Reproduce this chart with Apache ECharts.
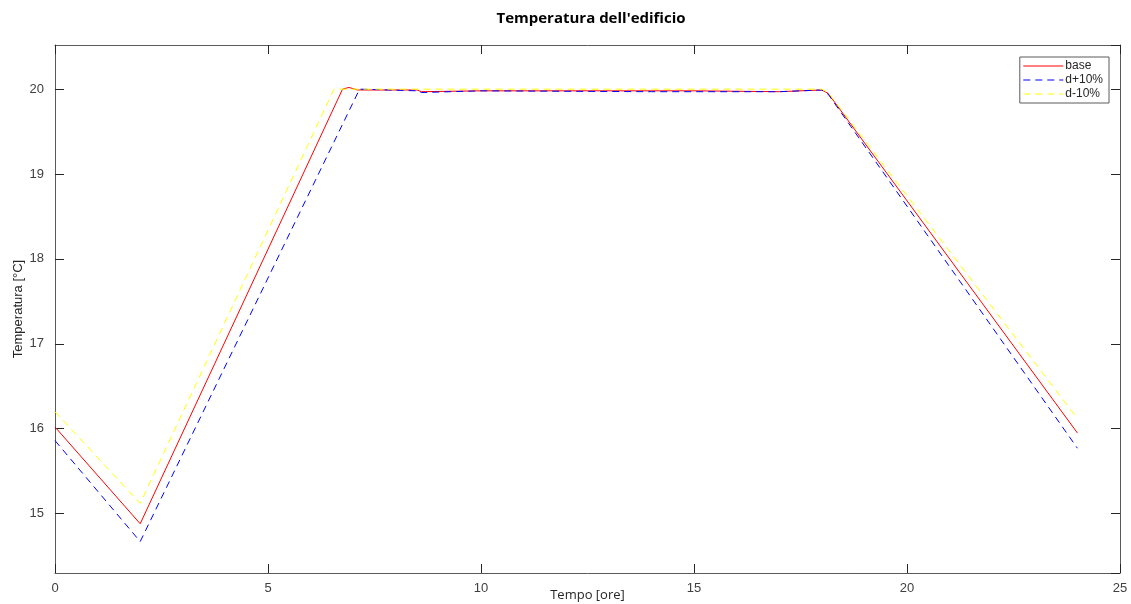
<!DOCTYPE html>
<html>
<head>
<meta charset="utf-8">
<script src="https://cdn.jsdelivr.net/npm/echarts@6/dist/echarts.min.js"></script>
<style>html,body{margin:0;padding:0;background:#fff}#c{width:1131px;height:604px}</style>
</head>
<body>
<div id="c"></div>
<script>
// Data: [time (h), temperature (°C)]
const seriesNames = ['base', 'd+10%', 'd-10%'];
const baseData = [[0,16.02],[2,14.88],[6.75,20.0],[6.9,20.02],[7.1,19.99],[8.5,19.99],[8.6,19.97],[10,19.98],[13,19.98],[15,19.98],[17,19.97],[18,19.99],[18.15,19.95],[24,15.95]];
const plusData = [[0,15.86],[2,14.67],[7.15,20.0],[8.5,19.98],[8.6,19.96],[10,19.98],[14,19.97],[17,19.97],[18,19.99],[18.15,19.94],[24,15.77]];
const minusData = [[0,16.2],[2,15.12],[6.55,20.0],[10,20.0],[15,20.0],[18,20.0],[18.15,19.96],[24,16.12]];
const xTicks = [0, 5, 10, 15, 20, 25];
const yTicks = [15, 16, 17, 18, 19, 20];

const axisColor = '#5a5a5a';
const labelColor = '#404040';
const font = 'Liberation Sans, Arial, sans-serif';

const chart = echarts.init(document.getElementById('c'), null, {renderer: 'canvas'});
const xAxisCommon = {
  type: 'value', min: xTicks[0], max: xTicks[xTicks.length-1], interval: 5,
  axisLine: {show: true, onZero: false, lineStyle: {color: axisColor, width: 1}},
  axisTick: {show: true, inside: true, length: 9, lineStyle: {color: '#262626'}},
  splitLine: {show: false}
};
const yAxisCommon = {
  type: 'value', min: 14.3, max: 20.52,
  axisLine: {show: true, onZero: false, lineStyle: {color: axisColor, width: 1}},
  axisTick: {show: true, inside: true, length: 9, lineStyle: {color: '#262626'}},
  splitLine: {show: false}
};
chart.setOption({
  backgroundColor: '#fff',
  animation: false,
  title: {
    text: "Temperatura dell'edificio", left: 586, top: 6, textAlign: 'center',
    textStyle: {fontFamily: 'Open Sans, sans-serif', fontWeight: 'bold', fontSize: 15, color: '#000'}
  },
  grid: {left: 55, right: 11, top: 45, bottom: 31, containLabel: false, outerBoundsMode: 'none'},
  legend: {
    orient: 'vertical', right: 22, top: 57,
    itemWidth: 40, itemHeight: 14, itemGap: 2,
    padding: [3, 6, 3, 3],
    borderColor: '#5a5a5a', borderWidth: 1, backgroundColor: '#fff',
    itemStyle: {opacity: 0},
    lineStyle: {width: 1},
    textStyle: {fontFamily: font, fontSize: 12, color: '#262626', padding: [0,0,0,-3]},
    data: seriesNames
  },
  xAxis: [
    Object.assign({}, xAxisCommon, {
      position: 'bottom',
      name: 'Tempo [ore]', nameLocation: 'middle', nameGap: 16, nameMoveOverlap: false,
      nameTextStyle: {fontFamily: 'Open Sans, sans-serif', fontSize: 13, color: '#262626'},
      axisLabel: {show: true, color: labelColor, fontFamily: font, fontSize: 13, margin: 9}
    }),
    Object.assign({}, xAxisCommon, {position: 'top', axisLabel: {show: false}})
  ],
  yAxis: [
    Object.assign({}, yAxisCommon, {
      position: 'left',
      name: 'Temperatura [°C]', nameLocation: 'middle', nameGap: 30, nameMoveOverlap: false,
      nameTextStyle: {fontFamily: font, fontSize: 13, color: '#262626'},
      axisLabel: {show: true, color: labelColor, fontFamily: font, fontSize: 13, margin: 11,
        showMinLabel: false, showMaxLabel: false,
        formatter: v => yTicks.indexOf(Math.round(v*100)/100) >= 0 ? String(v) : ''}
    }),
    Object.assign({}, yAxisCommon, {position: 'right', axisLabel: {show: false}})
  ],
  series: [
    {name: seriesNames[0], type: 'line', data: baseData, showSymbol: false, symbol: 'none',
      lineStyle: {color: '#ff0000', width: 1}, itemStyle: {color: '#ff0000'}, z: 3},
    {name: seriesNames[1], type: 'line', data: plusData, showSymbol: false, symbol: 'none',
      lineStyle: {color: '#0000ff', width: 1, type: [7, 5]}, itemStyle: {color: '#0000ff'}, z: 4},
    {name: seriesNames[2], type: 'line', data: minusData, showSymbol: false, symbol: 'none',
      lineStyle: {color: '#ffff00', width: 1, type: [7, 5]}, itemStyle: {color: '#ffff00'}, z: 5}
  ]
});
</script>
</body>
</html>
